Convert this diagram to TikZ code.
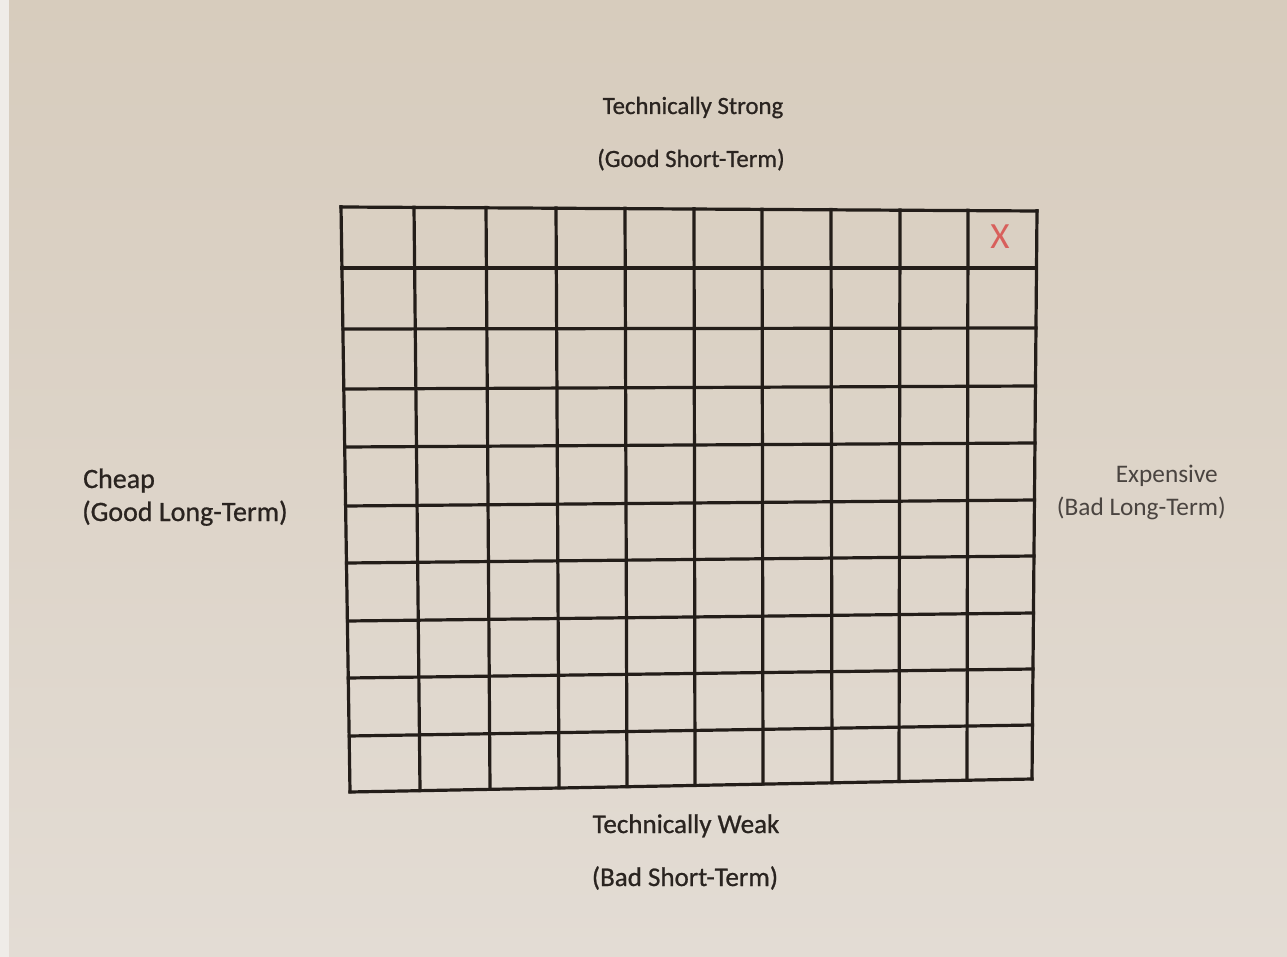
\documentclass[tikz,border=0pt]{standalone}
\usepackage{fontspec}
\setmainfont{Carlito}
\newfontfamily\thickfont{Carlito}[BoldFont={Carlito}, BoldFeatures={FakeBold=0.8}]
\definecolor{papertop}{HTML}{D7CCBD}
\definecolor{paperbot}{HTML}{E3DCD4}
\definecolor{edgec}{HTML}{EFECE8}
\definecolor{gridc}{HTML}{231D19}
\definecolor{inkc}{HTML}{2A2420}
\definecolor{inklight}{HTML}{4A4440}
\definecolor{xred}{HTML}{D8605C}
\begin{document}
\begin{tikzpicture}[x=1pt,y=-1pt,
  gridline/.style={line width=3.2pt, draw=gridc, line cap=rect},
  lbl/.style={font=\thickfont\bfseries\fontsize{27}{30}\selectfont, text=inkc, inner sep=0pt, anchor=base}]
\useasboundingbox (0,0) rectangle (1287,957);
\shade[top color=papertop, bottom color=paperbot] (0,0) rectangle (1287,957);
\fill[edgec] (0,0) rectangle (9,957);
% vertical grid lines (top x / bottom x)
\foreach \xt/\xb [count=\i] in {341/350,414/420,486/490,556/559,625/627,694/695,762/763,831/832,900/899,968/967,1037/1032}{
  \pgfmathsetmacro\yt{206.7+(\xt-341)*4/696}
  \pgfmathsetmacro\yb{791.7-(\xb-350)*12.7/682}
  \coordinate (vt\i) at (\xt,\yt);
  \coordinate (vb\i) at (\xb,\yb);
  \draw[gridline] (vt\i) -- (vb\i);
}
% horizontal grid lines (left y / right y)
\foreach \yl/\yr [count=\j] in {207/211,268/268,329/328,389/386,447/443,506/500,563/556,621/613,678/669,736/725,792/779}{
  \pgfmathsetmacro\xl{341+(\yl-207)*9/585}
  \pgfmathsetmacro\xr{1037-(\yr-211)*5/568}
  \coordinate (hl\j) at (\xl,\yl);
  \coordinate (hr\j) at (\xr,\yr);
  \draw[gridline] (hl\j) -- (hr\j);
}
\node[font=\fontsize{37}{40}\selectfont, text=xred, inner sep=0pt] (xmark) at (1000,237) {X};
\node[lbl, font=\thickfont\bfseries\fontsize{24.8}{28}\selectfont] (ts) at (693,114) {Technically Strong};
\node[lbl, font=\thickfont\bfseries\fontsize{24.8}{28}\selectfont] (gs) at (691,167) {(Good Short-Term)};
\node[lbl] (tw) at (686,833) {Technically Weak};
\node[lbl] (bs) at (685,886) {(Bad Short-Term)};
\node[lbl, anchor=base west, font=\thickfont\bfseries\fontsize{28}{30}\selectfont] (ch) at (83,488) {Cheap};
\node[lbl, anchor=base west, font=\thickfont\bfseries\fontsize{28}{30}\selectfont] (gl) at (82,521) {(Good Long-Term)};
\node[lbl, anchor=base east, text=inklight, font=\fontsize{25.3}{28}\selectfont] (ex) at (1218,482) {Expensive};
\node[lbl, anchor=base east, text=inklight, font=\fontsize{25.3}{28}\selectfont] (bl) at (1226,515) {(Bad Long-Term)};
\end{tikzpicture}
\end{document}
